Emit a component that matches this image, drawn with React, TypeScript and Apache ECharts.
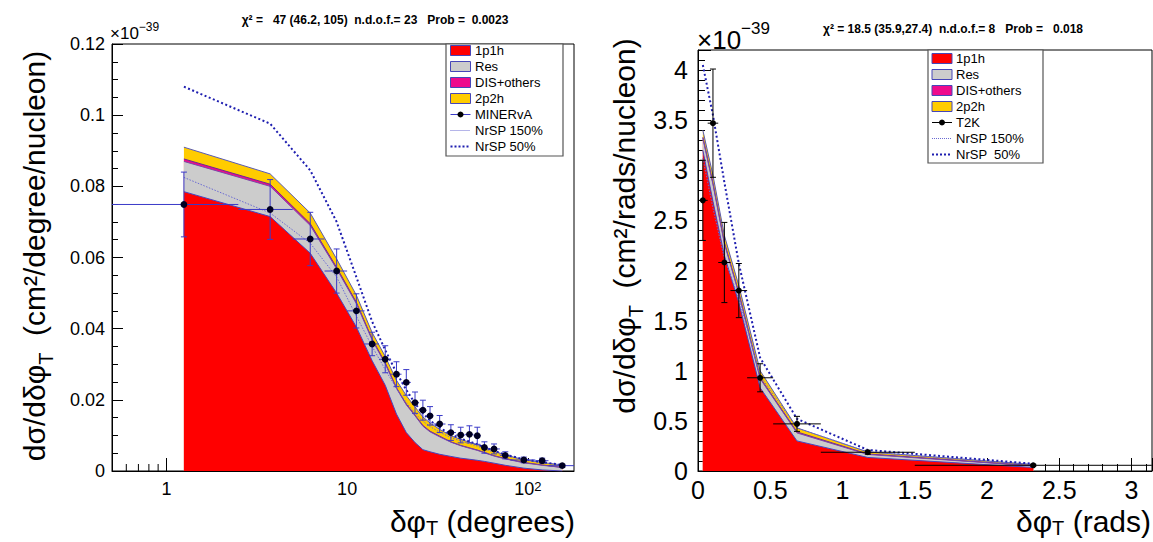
import React, { useEffect, useRef } from "react";
import * as echarts from "echarts";

const FONT = "'Liberation Sans', Arial, Helvetica, sans-serif";

/* ---------- Left panel: MINERvA, δφT in degrees ---------- */
const degBinCenters = [1.25, 3.75, 6.25, 8.75, 11.25, 13.75, 16.25, 18.75, 21.25, 23.75, 26.25, 28.75, 32.5, 37.5, 42.5, 47.5, 52.5, 57.5, 65, 75, 95, 120, 155];
const degBinEdges = [0, 2.5, 5, 7.5, 10, 12.5, 15, 17.5, 20, 22.5, 25, 27.5, 30, 35, 40, 45, 50, 55, 60, 70, 80, 110, 130, 180];
const minervaXsec = [0.0749, 0.0735, 0.0652, 0.0562, 0.045, 0.0357, 0.0314, 0.0272, 0.0249, 0.0192, 0.0171, 0.0155, 0.0132, 0.0108, 0.0101, 0.0103, 0.0099, 0.0066, 0.0062, 0.0044, 0.0031, 0.0029, 0.0015];
const minervaErr = [0.0091, 0.0084, 0.0075, 0.0062, 0.0048, 0.0033, 0.0038, 0.0035, 0.0036, 0.003, 0.0028, 0.0026, 0.0024, 0.0022, 0.0022, 0.0024, 0.0024, 0.0016, 0.0014, 0.001, 0.0008, 0.0007, 0.0004];
const deg1p1h = [0.0785, 0.0715, 0.0612, 0.05, 0.0405, 0.031, 0.0241, 0.016, 0.0108, 0.008, 0.006, 0.0054, 0.0047, 0.0041, 0.0036, 0.0033, 0.003, 0.0027, 0.0022, 0.0016, 0.0008, 0.0003, 0.0];
const degRes = [0.0085, 0.0085, 0.0078, 0.0068, 0.0065, 0.0058, 0.006, 0.0072, 0.0078, 0.0075, 0.0066, 0.0056, 0.0049, 0.004, 0.0035, 0.0031, 0.0028, 0.0024, 0.002, 0.0018, 0.0015, 0.0013, 0.001];
const degDis = [0.0007, 0.0006, 0.0005, 0.0004, 0.0004, 0.0003, 0.0003, 0.0002, 0.0002, 0.0002, 0.0002, 0.0002, 0.0002, 0.0001, 0.0001, 0.0001, 0.0001, 0.0001, 0.0001, 0.0001, 0.0001, 0.0001, 0.0];
const deg2p2h = [0.0033, 0.0029, 0.003, 0.0024, 0.002, 0.0018, 0.0018, 0.0021, 0.0024, 0.0023, 0.0024, 0.0023, 0.0019, 0.0017, 0.0017, 0.0016, 0.0015, 0.0014, 0.0013, 0.001, 0.0008, 0.0007, 0.0007];
const degNrSP150 = [0.0825, 0.0725, 0.064, 0.0545, 0.0435, 0.035, 0.0285, 0.0232, 0.0192, 0.0162, 0.014, 0.0125, 0.0109, 0.0094, 0.0084, 0.0077, 0.007, 0.0062, 0.0053, 0.0043, 0.0031, 0.0023, 0.0016];
const degNrSP50 = [0.108, 0.0976, 0.0845, 0.07, 0.0545, 0.042, 0.034, 0.0276, 0.0228, 0.019, 0.0162, 0.0142, 0.0122, 0.0103, 0.0091, 0.0083, 0.0075, 0.0067, 0.0057, 0.0046, 0.0033, 0.0025, 0.0017];
const degMinorTicks = [0.6, 0.7, 0.8, 0.9, 2, 3, 4, 5, 6, 7, 8, 9, 20, 30, 40, 50, 60, 70, 80, 90];
const DEG_MIN = 0.5;
const DEG_MAX = 180;

/* ---------- Right panel: T2K, δφT in rads ---------- */
const radBinCenters = [0.0335, 0.1035, 0.1825, 0.2825, 0.43, 0.685, 1.175, 2.32];
const radBinEdges = [0, 0.067, 0.14, 0.225, 0.34, 0.52, 0.85, 1.5, 3.14];
const t2kXsec = [2.7, 3.47, 2.08, 1.8, 0.93, 0.47, 0.187, 0.057];
const t2kErr = [0.4, 0.54, 0.4, 0.27, 0.14, 0.075, 0.02, 0.01];
const rad1p1h = [3.2, 2.69, 2.15, 1.68, 0.83, 0.3, 0.135, 0.035];
const radRes = [0.12, 0.17, 0.12, 0.09, 0.09, 0.08, 0.03, 0.015];
const radDis = [0.01, 0.01, 0.01, 0.01, 0.01, 0.01, 0.005, 0.003];
const rad2p2h = [0.07, 0.08, 0.07, 0.07, 0.07, 0.04, 0.02, 0.012];
const radNrSP150 = [3.12, 2.62, 2.12, 1.72, 0.95, 0.43, 0.19, 0.062];
const radNrSP50 = [4.05, 3.55, 2.88, 2.07, 1.13, 0.52, 0.21, 0.072];

const leftLegend = [
  { label: "1p1h", kind: "fill", color: "#ff0000" },
  { label: "Res", kind: "fill", color: "#cccccc" },
  { label: "DIS+others", kind: "fill", color: "#ee0a8c" },
  { label: "2p2h", kind: "fill", color: "#ffcc00" },
  { label: "MINERvA", kind: "marker", color: "#3a3ac8" },
  { label: "NrSP 150%", kind: "dotThin", color: "#6a6ad2" },
  { label: "NrSP 50%", kind: "dotThick", color: "#1e1eb0" },
];
const rightLegend = [
  { label: "1p1h", kind: "fill", color: "#ff0000" },
  { label: "Res", kind: "fill", color: "#cccccc" },
  { label: "DIS+others", kind: "fill", color: "#ee0a8c" },
  { label: "2p2h", kind: "fill", color: "#ffcc00" },
  { label: "T2K", kind: "marker", color: "#000000" },
  { label: "NrSP 150%", kind: "dotThin", color: "#6a6ad2" },
  { label: "NrSP  50%", kind: "dotThick", color: "#1e1eb0" },
];

const addArrays = (...arrs: number[][]) => arrs[0].map((_, i) => arrs.reduce((s, a) => s + a[i], 0));
const pairs = (xs: number[], ys: number[]) => xs.map((x, i) => [x, ys[i]]);

function errorBarRender(barColor: string, dotColor: string, xFloor: number, dotR: number) {
  return (_params: any, api: any) => {
    const x = api.value(0);
    const y = api.value(1);
    const lo = Math.max(api.value(2), xFloor);
    const hi = api.value(3);
    const e = api.value(4);
    const c = api.coord([x, y]);
    const l = api.coord([lo, y]);
    const h = api.coord([hi, y]);
    const t = api.coord([x, y + e]);
    const b = api.coord([x, y - e]);
    const st = { stroke: barColor, lineWidth: 1 };
    return {
      type: "group",
      children: [
        { type: "line", shape: { x1: l[0], y1: c[1], x2: h[0], y2: c[1] }, style: st },
        { type: "line", shape: { x1: c[0], y1: t[1], x2: c[0], y2: b[1] }, style: st },
        { type: "line", shape: { x1: c[0] - 3, y1: t[1], x2: c[0] + 3, y2: t[1] }, style: st },
        { type: "line", shape: { x1: c[0] - 3, y1: b[1], x2: c[0] + 3, y2: b[1] }, style: st },
        { type: "circle", shape: { cx: c[0], cy: c[1], r: dotR }, style: { fill: dotColor } },
      ],
    };
  };
}

function minorTickRender(_params: any, api: any) {
  const p = api.coord([api.value(0), api.value(1)]);
  return {
    type: "line",
    shape: { x1: p[0], y1: p[1], x2: p[0], y2: p[1] - 7 },
    style: { stroke: "#000", lineWidth: 1 },
  };
}

function areaSeries(name: string, xs: number[], ys: number[], fill: string, edge: string, idx: number) {
  return {
    type: "line",
    name,
    xAxisIndex: idx,
    yAxisIndex: idx,
    data: pairs(xs, ys),
    symbol: "none",
    silent: true,
    z: 2,
    lineStyle: { color: edge, width: 1 },
    areaStyle: { color: fill, opacity: 1 },
  };
}

function dottedSeries(name: string, xs: number[], ys: number[], color: string, width: number, dash: number[], idx: number) {
  return {
    type: "line",
    name,
    xAxisIndex: idx,
    yAxisIndex: idx,
    data: pairs(xs, ys),
    symbol: "none",
    silent: true,
    z: 3,
    lineStyle: { color, width, type: dash },
  };
}

function legendGraphics(entries: any[], box: number[], row0: number, dy: number, sx: number, sw: number, tx: number) {
  const els: any[] = [
    { type: "rect", z: 50, shape: { x: box[0], y: box[1], width: box[2], height: box[3] }, style: { fill: "#fff", stroke: "#555", lineWidth: 1.2 } },
  ];
  entries.forEach((en, i) => {
    const y = row0 + i * dy;
    if (en.kind === "fill") {
      els.push({ type: "rect", z: 51, shape: { x: sx, y: y - 5, width: sw, height: 10 }, style: { fill: en.color, stroke: "#4646b8", lineWidth: 1 } });
    } else if (en.kind === "marker") {
      els.push({ type: "line", z: 51, shape: { x1: sx, y1: y, x2: sx + sw, y2: y }, style: { stroke: en.color, lineWidth: 1 } });
      els.push({ type: "circle", z: 52, shape: { cx: sx + sw / 2, cy: y, r: 3 }, style: { fill: "#000" } });
    } else if (en.kind === "dotThin") {
      els.push({ type: "line", z: 51, shape: { x1: sx, y1: y, x2: sx + sw, y2: y }, style: { stroke: en.color, lineWidth: 1, lineDash: [1, 1] } });
    } else {
      els.push({ type: "line", z: 51, shape: { x1: sx, y1: y, x2: sx + sw, y2: y }, style: { stroke: en.color, lineWidth: 2, lineDash: [2, 2] } });
    }
    els.push({
      type: "text",
      z: 52,
      x: tx,
      y,
      style: { text: en.label, fontSize: 13, fontFamily: FONT, fill: "#000", align: "left", verticalAlign: "middle" },
    });
  });
  return els;
}

function textEl(x: number, y: number, text: string, size: number, align: string, extra: any = {}, rotation = 0) {
  return {
    type: "text",
    z: 60,
    x,
    y,
    rotation,
    style: {
      text,
      fontSize: size,
      fontFamily: FONT,
      fill: "#000",
      align,
      verticalAlign: "middle",
      ...extra,
    },
  };
}

function degLabel(v: number) {
  const lg = Math.log10(v);
  const e = Math.round(lg);
  if (Math.abs(lg - e) > 1e-6) return "";
  return e >= 2 ? `10{sup|${e}}` : String(Math.pow(10, e));
}

function buildOption() {
  const degTop1 = deg1p1h;
  const degTop2 = addArrays(deg1p1h, degRes);
  const degTop3 = addArrays(deg1p1h, degRes, degDis);
  const degTop4 = addArrays(deg1p1h, degRes, degDis, deg2p2h);
  const radTop1 = rad1p1h;
  const radTop2 = addArrays(rad1p1h, radRes);
  const radTop3 = addArrays(rad1p1h, radRes, radDis);
  const radTop4 = addArrays(rad1p1h, radRes, radDis, rad2p2h);

  const axisLine = { show: true, lineStyle: { color: "#000", width: 1 } };
  const subRich = { sub: { fontSize: 20, fontFamily: FONT, verticalAlign: "bottom" } };

  return {
    animation: false,
    backgroundColor: "#fff",
    grid: [
      { left: 112, top: 44, width: 462, height: 427, show: true, borderColor: "#000", borderWidth: 1, backgroundColor: "transparent", containLabel: false, outerBoundsMode: "none" },
      { left: 698, top: 50, width: 454, height: 421, show: true, borderColor: "#000", borderWidth: 1, backgroundColor: "transparent", containLabel: false, outerBoundsMode: "none" },
    ],
    xAxis: [
      {
        type: "log",
        logBase: 10,
        gridIndex: 0,
        min: DEG_MIN,
        max: DEG_MAX,
        axisLine,
        axisTick: { show: true, inside: true, length: 13, lineStyle: { color: "#000" } },
        minorTick: { show: false },
        splitLine: { show: false },
        axisLabel: {
          margin: 9,
          fontSize: 18,
          fontFamily: FONT,
          color: "#000",
          showMinLabel: false,
          showMaxLabel: false,
          formatter: degLabel,
          rich: { sup: { fontSize: 13, fontFamily: FONT, color: "#000", verticalAlign: "top" } },
        },
      },
      {
        type: "value",
        gridIndex: 1,
        min: 0,
        max: Math.PI,
        interval: 0.5,
        axisLine,
        axisTick: { show: true, inside: true, length: 13, lineStyle: { color: "#000" } },
        minorTick: { show: true, splitNumber: 5, length: 7, lineStyle: { color: "#000" } },
        splitLine: { show: false },
        axisLabel: { margin: 6, fontSize: 25, fontFamily: FONT, color: "#000", showMaxLabel: false, formatter: (v: number) => String(+v.toFixed(2)) },
      },
    ],
    yAxis: [
      {
        type: "value",
        gridIndex: 0,
        min: 0,
        max: 0.12,
        interval: 0.02,
        axisLine,
        axisTick: { show: true, inside: true, length: 11, lineStyle: { color: "#000" } },
        minorTick: { show: true, splitNumber: 4, length: 6, lineStyle: { color: "#000" } },
        splitLine: { show: false },
        axisLabel: { margin: 7, fontSize: 18, fontFamily: FONT, color: "#000", formatter: (v: number) => String(+v.toFixed(3)) },
      },
      {
        type: "value",
        gridIndex: 1,
        min: 0,
        max: 4.2,
        interval: 0.5,
        axisLine,
        axisTick: { show: true, inside: true, length: 13, lineStyle: { color: "#000" } },
        minorTick: { show: true, splitNumber: 5, length: 7, lineStyle: { color: "#000" } },
        splitLine: { show: false },
        axisLabel: { margin: 10, fontSize: 25, fontFamily: FONT, color: "#000", showMaxLabel: false, formatter: (v: number) => String(+v.toFixed(2)) },
      },
    ],
    series: [
      {
        type: "custom",
        name: "log minor ticks",
        xAxisIndex: 0,
        yAxisIndex: 0,
        silent: true,
        z: 1,
        data: degMinorTicks.map((v) => [v, 0]),
        encode: { x: 0, y: 1 },
        renderItem: minorTickRender,
      },
      areaSeries("2p2h", degBinCenters, degTop4, "#ffcc00", "#5a5ab0", 0),
      areaSeries("DIS+others", degBinCenters, degTop3, "#ee0a8c", "#6a2a95", 0),
      areaSeries("Res", degBinCenters, degTop2, "#cccccc", "#7a4aa8", 0),
      areaSeries("1p1h", degBinCenters, degTop1, "#ff0000", "#4646c0", 0),
      dottedSeries("NrSP 150%", degBinCenters, degNrSP150, "#6a6ad2", 1, [1.5, 1.5], 0),
      dottedSeries("NrSP 50%", degBinCenters, degNrSP50, "#1e1eb0", 2, [2, 2.5], 0),
      {
        type: "custom",
        name: "MINERvA",
        xAxisIndex: 0,
        yAxisIndex: 0,
        silent: true,
        z: 4,
        data: degBinCenters.map((x, i) => [x, minervaXsec[i], degBinEdges[i], degBinEdges[i + 1], minervaErr[i]]),
        encode: { x: 0, y: 1 },
        renderItem: errorBarRender("#3a3ac8", "#000022", DEG_MIN, 3.4),
      },
      areaSeries("2p2h", radBinCenters, radTop4, "#ffcc00", "#5a5ab0", 1),
      areaSeries("DIS+others", radBinCenters, radTop3, "#ee0a8c", "#6a2a95", 1),
      areaSeries("Res", radBinCenters, radTop2, "#cccccc", "#7a4aa8", 1),
      areaSeries("1p1h", radBinCenters, radTop1, "#ff0000", "#4646c0", 1),
      dottedSeries("NrSP 150%", radBinCenters, radNrSP150, "#6a6ad2", 1, [1.5, 1.5], 1),
      dottedSeries("NrSP 50%", radBinCenters, radNrSP50, "#1e1eb0", 2, [2, 2.5], 1),
      {
        type: "custom",
        name: "T2K",
        xAxisIndex: 1,
        yAxisIndex: 1,
        silent: true,
        z: 4,
        data: radBinCenters.map((x, i) => [x, t2kXsec[i], radBinEdges[i], radBinEdges[i + 1], t2kErr[i]]),
        encode: { x: 0, y: 1 },
        renderItem: errorBarRender("#000000", "#000000", 0, 3),
      },
    ],
    graphic: [
      textEl(375, 20, "χ² =   47 (46.2, 105)  n.d.o.f.= 23   Prob =  0.0023", 12, "center", { fontWeight: "bold" }),
      textEl(953, 29, "χ² = 18.5 (35.9,27.4)  n.d.o.f.= 8   Prob =   0.018", 12, "center", { fontWeight: "bold" }),
      textEl(110, 33, "×10{sup|−39}", 17, "left", { lineHeight: 24, rich: { sup: { fontSize: 12, fontFamily: FONT, verticalAlign: "top" } } }),
      textEl(697, 40, "×10{sup|−39}", 26, "left", { lineHeight: 40, rich: { sup: { fontSize: 17, fontFamily: FONT, verticalAlign: "top" } } }),
      textEl(34, 256, "dσ/dδφ{sub|T}  (cm²/degree/nucleon)", 30, "center", { lineHeight: 44, rich: subRich }, Math.PI / 2),
      textEl(624, 226, "dσ/dδφ{sub|T}  (cm²/rads/nucleon)", 30, "center", { lineHeight: 44, rich: subRich }, Math.PI / 2),
      textEl(575, 521, "δφ{sub|T} (degrees)", 30, "right", { lineHeight: 34, rich: subRich }),
      textEl(1151, 521, "δφ{sub|T} (rads)", 30, "right", { lineHeight: 34, rich: subRich }),
      ...legendGraphics(leftLegend, [446, 44, 117, 112], 50.5, 16, 450.5, 20, 475),
      ...legendGraphics(rightLegend, [928, 50, 115, 113], 58.5, 16, 932, 20, 956),
    ],
  };
}

export default function App() {
  const ref = useRef<HTMLDivElement>(null);
  useEffect(() => {
    if (!ref.current) return;
    const chart = echarts.init(ref.current, null, { renderer: "svg" });
    chart.setOption(buildOption() as any);
    return () => chart.dispose();
  }, []);
  return <div ref={ref} style={{ position: "absolute", left: 0, top: 0, width: 1153, height: 542, background: "#fff" }} />;
}
